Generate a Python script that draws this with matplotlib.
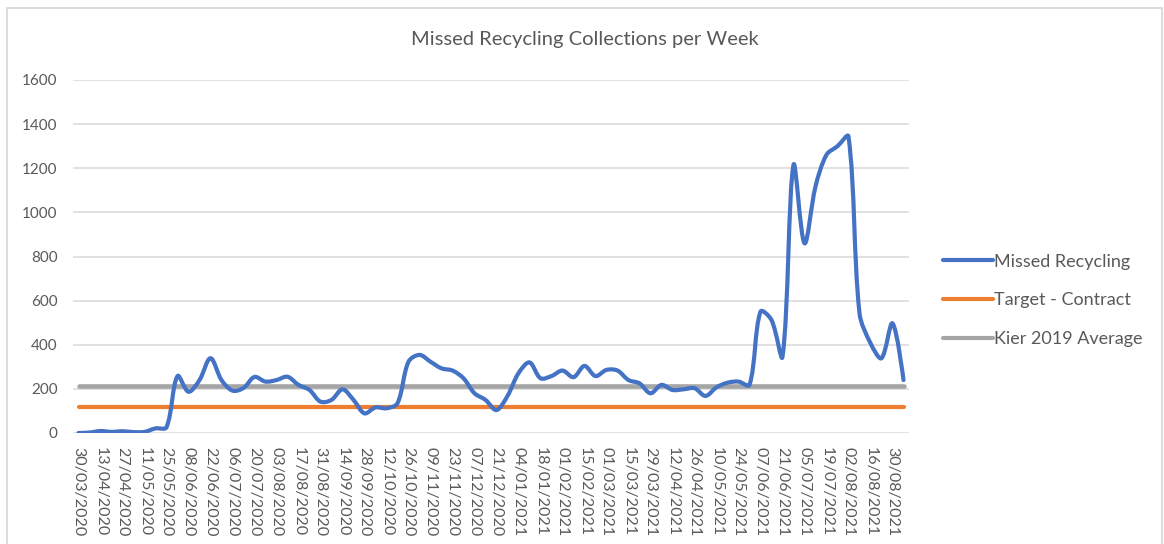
import numpy as np
import pandas as pd
from matplotlib import pyplot as plt
from matplotlib.path import Path
from matplotlib.patches import PathPatch, Rectangle
from matplotlib.lines import Line2D

plt.rcParams['font.family'] = ['Lato', 'DejaVu Sans']

# weekly categories, 30/03/2020 .. 06/09/2021
weeks = pd.date_range('2020-03-30', periods=76, freq='7D').strftime('%d/%m/%Y').tolist()

missed = [0, 2, 9, 5, 8, 4, 5, 21, 26, 258,
          187, 240, 339, 240, 192, 204, 254, 233, 240, 255,
          218, 195, 142, 150, 198, 150, 89, 116, 112, 135,
          323, 354, 323, 293, 283, 248, 180, 150, 104, 168,
          271, 320, 248, 258, 283, 253, 304, 258, 286, 283,
          240, 225, 180, 218, 195, 198, 203, 168, 207, 228,
          233, 218, 550, 512, 346, 1215, 860, 1117, 1261, 1300,
          1344, 543, 407, 339, 497, 240]
target_contract = 116
kier_2019_avg = 211

BLUE = '#4472C4'
ORANGE = '#ED7D31'
GREY = '#A5A5A5'
TXT = '#595959'


def smooth_path(xs, ys, sx, sy):
    # excel-ish smoothing: bezier tangents scaled by neighbouring segment lengths
    pts = np.column_stack([xs, ys]).astype(float)
    scr = pts * [sx, sy]
    n = len(pts)

    def seg(a, b):
        return np.hypot(*(scr[b] - scr[a])) + 1e-9

    verts = [pts[0]]
    codes = [Path.MOVETO]
    for i in range(n - 1):
        i0 = max(i - 1, 0)
        i3 = min(i + 2, n - 1)
        d01, d12, d23 = seg(i0, i), seg(i, i + 1), seg(i + 1, i3)
        f1 = d12 / (d01 + d12) / 3 if i > 0 else 0
        f2 = d12 / (d12 + d23) / 3 if i + 2 < n else 0
        c1 = pts[i] + (pts[i + 1] - pts[i0]) * f1
        c2 = pts[i + 1] - (pts[i3] - pts[i]) * f2
        verts += [c1, c2, pts[i + 1]]
        codes += [Path.CURVE4] * 3
    return Path(verts, codes)


fig = plt.figure(figsize=(11.64, 5.44), dpi=100)
ax = fig.add_axes([73 / 1164, 111 / 544, 836 / 1164, 353 / 544])

x = np.arange(len(weeks))
ax.add_patch(PathPatch(smooth_path(x, missed, 836 / 76, 353 / 1600), facecolor='none',
                       edgecolor=BLUE, lw=3, capstyle='round', joinstyle='round', zorder=3))
ax.plot(x, np.full(len(x), target_contract), color=ORANGE, lw=3, solid_capstyle='round', zorder=2)
ax.plot(x, np.full(len(x), kier_2019_avg), color=GREY, lw=3.3, solid_capstyle='round', zorder=2)

ax.set_xlim(-0.5, len(weeks) - 0.5)
ax.set_ylim(0, 1600)
ax.set_yticks(range(0, 1601, 200))
ax.set_xticks(x[::2])
ax.set_xticklabels(weeks[::2], rotation=-90)
ax.tick_params(axis='both', length=0, colors=TXT, labelsize=11)
ax.tick_params(axis='x', labelsize=11.5)
ax.tick_params(axis='y', pad=11)
ax.tick_params(axis='x', pad=10)
ax.grid(axis='y', color='#D9D9D9', lw=1.1)
ax.set_axisbelow(True)
for s in ax.spines.values():
    s.set_visible(False)

handles = [Line2D([], [], color=c, lw=3, solid_capstyle='round') for c in (BLUE, ORANGE, GREY)]
fig.legend(handles, ['Missed Recycling', 'Target - Contract', 'Kier 2019 Average'],
           loc='center left', bbox_to_anchor=(943 / 1164, 1 - 300.5 / 544), frameon=False,
           fontsize=13, labelcolor=TXT, handlelength=2.75, handletextpad=0.05,
           labelspacing=1.27, borderpad=0, borderaxespad=0)

fig.text(585 / 1164, 1 - 40 / 544, 'Missed Recycling Collections per Week',
         ha='center', va='center', fontsize=14.5, color=TXT)

fig.patches.append(Rectangle((7 / 1164, -0.05), 1155 / 1164, 1.05 - 8 / 544,
                             transform=fig.transFigure, fill=False, ec='#D9D9D9', lw=1.3))

fig.savefig('out.png', dpi=100)
plt.close(fig)
